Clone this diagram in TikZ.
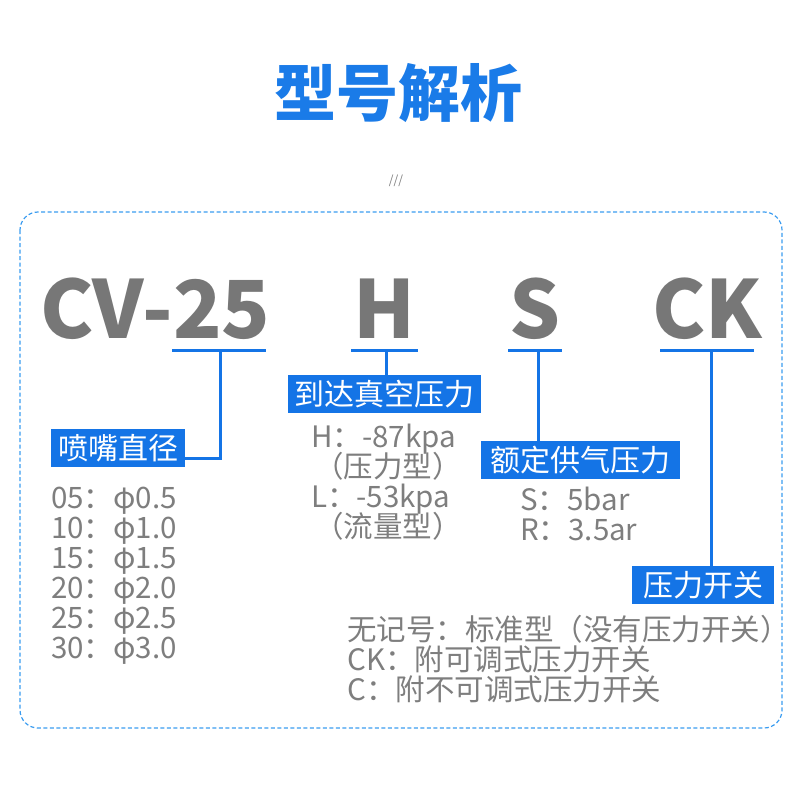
\documentclass[tikz,border=0pt]{standalone}
\usepackage{fontspec}
\setmainfont{Noto Sans CJK SC}
\definecolor{tblue}{HTML}{1A7BE8}
\definecolor{bblue}{HTML}{1474E6}
\definecolor{lblue}{HTML}{3A9CF0}
\definecolor{tgray}{HTML}{7E7E7E}
\definecolor{bgray}{HTML}{777777}
\tikzset{
  lbl/.style={fill=bblue,text=white,font=\fontsize{30}{30}\selectfont,inner sep=0pt,minimum height=38pt,anchor=north west},
  big/.style={text=bgray,font=\bfseries\fontsize{80}{80}\selectfont,inner sep=0pt,anchor=base},
  desc/.style={text=tgray,font=\fontsize{29.5}{29.5}\selectfont,inner sep=0pt,anchor=base west},
  conn/.style={draw=bblue,line width=3pt},
}
\begin{document}
\begin{tikzpicture}[x=1pt,y=-1pt]
\useasboundingbox (0,0) rectangle (800,800);
% title
\node[text=tblue,font=\bfseries\fontsize{62}{62}\selectfont,inner sep=0pt,anchor=base] (title) at (398,116) {型号解析};
\node[text=tgray,font=\fontsize{12}{12}\selectfont,inner sep=0pt] (mark) at (396,181) {///};
% frame
\draw[lblue,line width=1.2pt,dash pattern=on 4pt off 2.5pt,rounded corners=18pt] (20,212) rectangle (782,728);
% big letters
\node[big,anchor=base west] (cv) at (40,338) {CV-25};
\node[big] (h) at (384,338) {H};
\node[big] (s) at (535,338) {S};
\node[big] (ck) at (707,338) {CK};
% label boxes
\node[lbl,minimum width=134pt] (b1) at (51,429) {喷嘴直径};
\node[lbl,minimum width=193pt] (b2) at (288,375) {到达真空压力};
\node[lbl,minimum width=199pt] (b3) at (481,441) {额定供气压力};
\node[lbl,minimum width=142pt] (b4) at (632,566) {压力开关};
% underlines and stems
\coordinate (u1l) at (172,350); \coordinate (u1r) at (266,350); \coordinate (u1m) at (220,350);
\coordinate (u2l) at (351,350); \coordinate (u2r) at (418,350); \coordinate (u2m) at (386,350);
\coordinate (u3l) at (508,350); \coordinate (u3r) at (562,350); \coordinate (u3m) at (538,350);
\coordinate (u4l) at (660,350); \coordinate (u4r) at (754,350); \coordinate (u4m) at (711,350);
\draw[conn] (u1l) -- (u1r);
\draw[conn] (u2l) -- (u2r);
\draw[conn] (u3l) -- (u3r);
\draw[conn] (u4l) -- (u4r);
\coordinate (k1) at (220,458);
\draw[conn] (u1m) -- (k1) -- (k1 -| b1.east);
\draw[conn] (u2m) -- (u2m |- b2.north);
\draw[conn] (u3m) -- (u3m |- b3.north);
\draw[conn] (u4m) -- (u4m |- b4.north);
% descriptions
\node[desc] (d1) at (51,508) {05：φ0.5};
\node[desc] (d2) at (51,538) {10：φ1.0};
\node[desc] (d3) at (51,568) {15：φ1.5};
\node[desc] (d4) at (51,598) {20：φ2.0};
\node[desc] (d5) at (51,628) {25：φ2.5};
\node[desc] (d6) at (51,658) {30：φ3.0};
\node[desc] (h1) at (311,447) {H：-87kpa};
\node[desc] (h2) at (314,477) {（压力型）};
\node[desc] (h3) at (311,507) {L：-53kpa};
\node[desc] (h4) at (314,537) {（流量型）};
\node[desc] (s1) at (520,510) {S：5bar};
\node[desc] (s2) at (520,540) {R：3.5ar};
\node[desc] (c1) at (347,640) {无记号：标准型（没有压力开关）};
\node[desc] (c2) at (347,670) {CK：附可调式压力开关};
\node[desc] (c3) at (347,700) {C：附不可调式压力开关};
\end{tikzpicture}
\end{document}
